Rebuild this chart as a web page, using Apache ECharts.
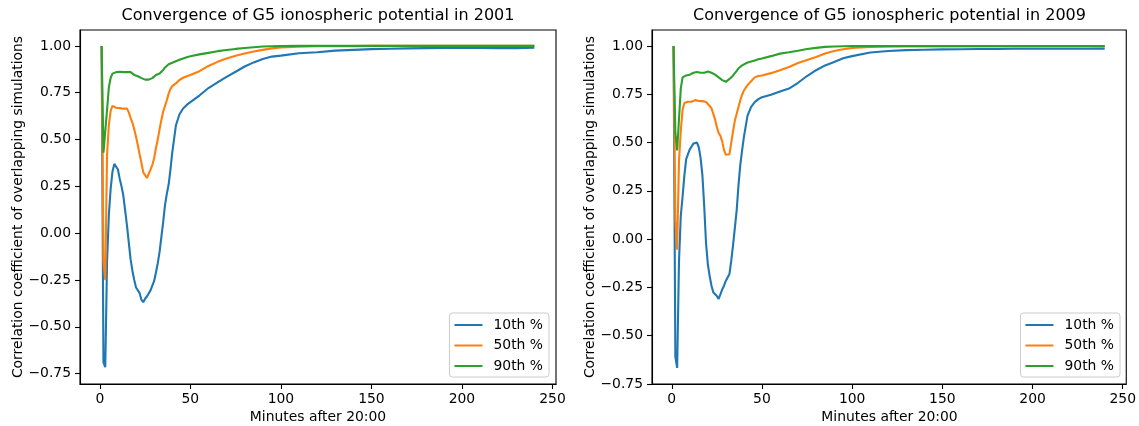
<!DOCTYPE html>
<html><head><meta charset="utf-8">
<script src="https://cdn.jsdelivr.net/npm/echarts@6/dist/echarts.min.js"></script>
<style>html,body{margin:0;padding:0;background:#fff}#c{width:1139px;height:426px}</style>
</head><body><div id="c"></div>
<script>
// minutes after 20:00 (shared sampling for all series)
const minutes = [1,2,3,4,5,6,7,8,9,10,11,12,13,14,15,16,17,18,19,20,21,22,23,24,25,26,27,28,29,30,31,32,33,34,35,36,37,38,39,40,
  42,44,46,48,50,55,60,65,70,75,80,85,90,95,100,110,120,130,140,150,160,170,180,190,200,210,220,230,240];

// 2001
const p10_2001 = [1.0,-0.69,-0.715,-0.15,0.10,0.24,0.33,0.37,0.365,0.34,0.29,0.25,0.20,0.12,0.04,-0.05,-0.14,-0.20,-0.25,-0.29,
  -0.30,-0.32,-0.356,-0.368,-0.35,-0.338,-0.34,-0.305,-0.28,-0.255,-0.21,-0.16,-0.10,-0.02,0.06,0.15,0.21,0.26,0.34,0.43,
  0.575,0.635,0.666,0.685,0.70,0.735,0.775,0.805,0.835,0.862,0.89,0.912,0.93,0.943,0.948,
  0.961,0.966,0.975,0.979,0.983,0.985,0.987,0.988,0.989,0.989,0.989,0.988,0.988,0.99];
const p50_2001 = [1.0,-0.15,-0.25,0.42,0.58,0.655,0.68,0.675,0.67,0.672,0.668,0.67,0.665,0.668,0.665,0.645,0.615,0.59,0.555,0.515,
  0.47,0.42,0.375,0.325,0.31,0.295,0.30,0.34,0.365,0.40,0.455,0.50,0.555,0.605,0.65,0.68,0.71,0.745,0.77,0.785,
  0.80,0.818,0.83,0.838,0.845,0.865,0.893,0.915,0.933,0.947,0.96,0.97,0.979,0.987,0.992,
  0.996,0.998,0.999,0.999,1.0,1.0,1.0,1.0,1.0,1.0,1.0,1.0,1.0,1.0];
const p90_2001 = [1.0,0.43,0.42,0.66,0.78,0.83,0.852,0.858,0.86,0.865,0.862,0.865,0.86,0.862,0.86,0.858,0.86,0.852,0.845,0.842,
  0.838,0.832,0.828,0.825,0.82,0.819,0.82,0.823,0.828,0.835,0.845,0.85,0.853,0.862,0.872,0.885,0.895,0.902,0.907,0.91,
  0.918,0.926,0.933,0.94,0.945,0.955,0.963,0.972,0.978,0.984,0.989,0.993,0.997,0.998,0.999,
  1.0,1.0,1.0,1.0,1.0,1.0,1.0,1.0,1.0,1.0,1.0,1.0,1.0,1.0];

// 2009
const p10_2009 = [1.0,-0.61,-0.667,-0.12,0.12,0.22,0.33,0.415,0.44,0.465,0.48,0.495,0.505,0.50,0.475,0.42,0.33,0.17,-0.02,-0.13,
  -0.19,-0.24,-0.275,-0.27,-0.295,-0.31,-0.285,-0.26,-0.24,-0.215,-0.205,-0.18,-0.11,-0.03,0.06,0.15,0.28,0.385,0.46,0.53,
  0.64,0.685,0.71,0.725,0.735,0.748,0.765,0.78,0.81,0.845,0.875,0.90,0.918,0.937,0.948,
  0.967,0.975,0.979,0.981,0.983,0.984,0.985,0.985,0.986,0.986,0.986,0.986,0.986,0.987];
const p50_2009 = [1.0,0.10,-0.055,0.40,0.56,0.67,0.705,0.712,0.712,0.715,0.712,0.718,0.72,0.715,0.716,0.712,0.715,0.715,0.71,0.703,
  0.69,0.678,0.65,0.62,0.58,0.55,0.535,0.505,0.46,0.437,0.436,0.44,0.50,0.56,0.615,0.65,0.685,0.72,0.748,0.77,
  0.798,0.818,0.838,0.845,0.848,0.86,0.875,0.892,0.912,0.928,0.944,0.962,0.975,0.984,0.99,
  0.996,0.998,0.999,1.0,1.0,1.0,1.0,1.0,1.0,1.0,1.0,1.0,1.0,1.0];
const p90_2009 = [1.0,0.55,0.46,0.62,0.78,0.838,0.846,0.848,0.85,0.852,0.858,0.862,0.866,0.866,0.86,0.862,0.862,0.862,0.866,0.868,
  0.866,0.862,0.856,0.852,0.845,0.838,0.83,0.824,0.818,0.815,0.82,0.83,0.838,0.848,0.856,0.872,0.885,0.895,0.90,0.905,
  0.915,0.92,0.926,0.932,0.936,0.948,0.961,0.968,0.976,0.985,0.991,0.996,0.998,0.999,1.0,
  1.0,1.0,1.0,1.0,1.0,1.0,1.0,1.0,1.0,1.0,1.0,1.0,1.0,1.0];

const seriesNames = ['10th %','50th %','90th %'];
const xTicks = [0,50,100,150,200,250];
const yTicks = [-0.75,-0.5,-0.25,0,0.25,0.5,0.75,1.0];
const titles = ['Convergence of G5 ionospheric potential in 2001','Convergence of G5 ionospheric potential in 2009'];
const xLabel = 'Minutes after 20:00';
const yLabel = 'Correlation coefficient of overlapping simulations';

const colors = ['#1f77b4','#ff7f0e','#2ca02c'];
const FONT = 'DejaVu Sans';
const FS = 13.9;
const grids = [
  {left: 80, top: 30, width: 476, height: 354},
  {left: 652, top: 30, width: 475, height: 354}
];
const yRanges = [[-0.805, 1.085], [-0.7504, 1.0834]];
const datasets = [[p10_2001,p50_2001,p90_2001],[p10_2009,p50_2009,p90_2009]];

const fmtY = v => v.toFixed(2).replace('-', '\u2212');

const option = {
  animation: false,
  backgroundColor: '#fff',
  textStyle: {fontFamily: FONT},
  grid: grids.map(g => Object.assign({show: true, borderColor: '#000', borderWidth: 1.1, containLabel: false}, g)),
  xAxis: grids.map((g, i) => ({
    type: 'value', gridIndex: i, min: -10.95, max: 251.95,
    splitLine: {show: false},
    axisLine: {show: true, onZero: false, lineStyle: {color: '#000', width: 1.1}},
    axisTick: {show: true, length: 5, lineStyle: {color: '#000', width: 1.1}, customValues: xTicks},
    axisLabel: {color: '#000', fontFamily: FONT, fontSize: FS, margin: 8, customValues: xTicks, formatter: v => String(v)}
  })),
  yAxis: grids.map((g, i) => ({
    type: 'value', gridIndex: i, min: yRanges[i][0], max: yRanges[i][1],
    splitLine: {show: false},
    axisLine: {show: true, onZero: false, lineStyle: {color: '#000', width: 1.1}},
    axisTick: {show: true, length: 5, lineStyle: {color: '#000', width: 1.1}, customValues: yTicks},
    axisLabel: {color: '#000', fontFamily: FONT, fontSize: FS, margin: 9, customValues: yTicks, formatter: fmtY}
  })),
  legend: grids.map((g, i) => ({
    data: seriesNames.map(n => ({name: n})),
    orient: 'vertical',
    right: 1139 - (g.left + g.width - 7),
    bottom: 426 - (g.top + g.height - 7),
    icon: 'rect', itemWidth: 28, itemHeight: 2, itemGap: 6.5,
    padding: [5, 6, 4, 5],
    backgroundColor: 'rgba(255,255,255,0.8)',
    borderColor: '#cccccc', borderWidth: 1, borderRadius: 3,
    selectedMode: false,
    textStyle: {color: '#000', fontFamily: FONT, fontSize: FS, padding: [0, 0, 0, 6]}
  })),
  series: [],
  graphic: []
};

datasets.forEach((ds, gi) => {
  ds.forEach((vals, si) => {
    option.series.push({
      type: 'line', name: seriesNames[si], xAxisIndex: gi, yAxisIndex: gi,
      data: minutes.map((m, k) => [m, vals[k]]),
      showSymbol: false, symbol: 'none', clip: true,
      lineStyle: {color: colors[si], width: 2.1},
      itemStyle: {color: colors[si]},
      z: 2 + si
    });
  });
  const g = grids[gi];
  const cx = g.left + g.width / 2;
  option.graphic.push(
    {type: 'text', x: cx, y: 16, style: {text: titles[gi], fontFamily: FONT, fontSize: 16, fill: '#000', align: 'center', verticalAlign: 'middle'}},
    {type: 'text', x: cx, y: 417, style: {text: xLabel, fontFamily: FONT, fontSize: FS, fill: '#000', align: 'center', verticalAlign: 'middle'}},
    {type: 'text', x: g.left - 62, y: g.top + g.height / 2, rotation: Math.PI / 2,
     style: {text: yLabel, fontFamily: FONT, fontSize: FS, fill: '#000', align: 'center', verticalAlign: 'middle'}}
  );
});

const chart = echarts.init(document.getElementById('c'), null, {renderer: 'canvas'});
chart.setOption(option);
</script>
</body></html>
